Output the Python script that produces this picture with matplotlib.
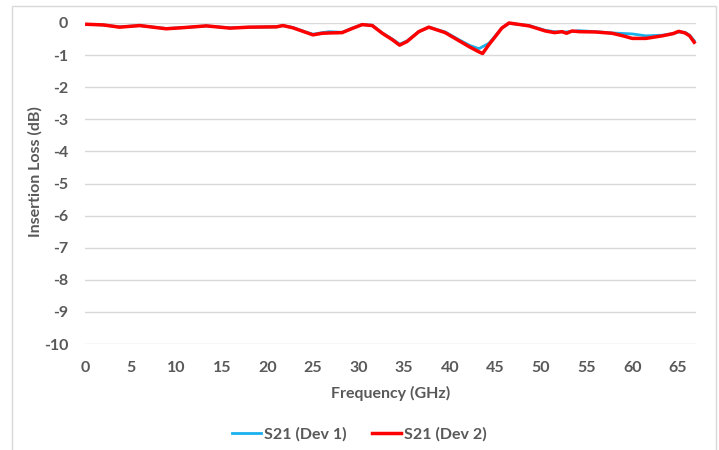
import matplotlib.pyplot as plt
from matplotlib.patches import Rectangle

# Measured S21 for two devices (GHz, dB)
freq_dev1 = [0.2, 2, 3.8, 6, 8.9, 11, 13.3, 15.9, 18, 21, 21.7, 22.8, 24, 25, 26, 26.8,
             28.2, 29.3, 30.4, 31.5, 32.6, 33.7, 34.5, 35.3, 36.6, 37.7, 39.5, 41,
             42.2, 43.2, 44.3, 45.0, 45.7, 46.5, 48.7, 50.5, 51.5, 52.7, 54.2, 56,
             57.8, 60, 61.5, 63.3, 64.5, 65.1, 65.8, 66.3, 66.8]
loss_dev1 = [-0.04, -0.06, -0.12, -0.08, -0.17, -0.14, -0.09, -0.15, -0.13, -0.12, -0.08,
             -0.14, -0.26, -0.35, -0.3, -0.27, -0.29, -0.16, -0.05, -0.07, -0.31, -0.5,
             -0.66, -0.56, -0.27, -0.13, -0.28, -0.52, -0.7, -0.8, -0.63, -0.4, -0.16,
             -0.01, -0.08, -0.23, -0.27, -0.28, -0.24, -0.27, -0.31, -0.34, -0.4, -0.38,
             -0.33, -0.28, -0.29, -0.38, -0.55]

freq_dev2 = [0.2, 2, 3.8, 6, 8.9, 11, 13.3, 15.9, 18, 21, 21.7, 22.8, 24, 25, 26, 26.8,
             28.2, 29.3, 30.4, 31.5, 32.6, 33.7, 34.5, 35.3, 36.6, 37.7, 39.5, 41,
             42.2, 43.2, 43.6, 44.3, 45.0, 45.7, 46.5, 48.7, 50.5, 51.5, 52.3, 52.8,
             53.4, 54.2, 56, 57.8, 59, 60, 61.5, 63.3, 64.5, 65.1, 65.8, 66.3, 66.8]
loss_dev2 = [-0.04, -0.06, -0.13, -0.08, -0.18, -0.14, -0.09, -0.16, -0.13, -0.12, -0.08,
             -0.15, -0.27, -0.37, -0.32, -0.31, -0.3, -0.17, -0.05, -0.08, -0.32, -0.52,
             -0.69, -0.58, -0.27, -0.13, -0.3, -0.55, -0.75, -0.9, -0.95, -0.67, -0.42,
             -0.16, 0.0, -0.09, -0.25, -0.3, -0.27, -0.32, -0.25, -0.27, -0.28,
             -0.32, -0.4, -0.48, -0.48, -0.4, -0.33, -0.26, -0.31, -0.4, -0.6]

x_ticks = list(range(0, 70, 5))
y_ticks = list(range(-10, 1))

plt.rcParams['font.family'] = ['Lato', 'DejaVu Sans']
text_color = '#595959'
grid_color = '#d9d9d9'

fig = plt.figure(figsize=(7.19, 4.5), dpi=100)
ax = fig.add_axes([85 / 719, 1 - 344 / 450, (696 - 85) / 719, (344 - 23) / 450])

# light frame around the chart area
fig.patches.append(Rectangle((12 / 719, -0.01), (716 - 12) / 719, 1 - 6 / 450 + 0.01,
                             transform=fig.transFigure, fill=False,
                             edgecolor=grid_color, linewidth=1.0))

ax.plot(freq_dev1, loss_dev1, color='#1ab0ec', linewidth=2.0, label='S21 (Dev 1)',
        clip_on=False, zorder=3)
ax.plot(freq_dev2, loss_dev2, color='#ff0000', linewidth=2.5, label='S21 (Dev 2)',
        clip_on=False, zorder=4)

ax.set_xlim(0, 67)
ax.set_ylim(-10, 0)
ax.set_xticks(x_ticks)
ax.set_yticks(y_ticks)
ax.set_yticklabels([str(v) for v in y_ticks])
ax.grid(axis='y', color=grid_color, linewidth=1.0)
ax.set_axisbelow(True)
for s in ax.spines.values():
    s.set_visible(False)
ax.tick_params(length=0, labelsize=11.5, labelcolor=text_color, pad=12)
for lbl in ax.get_xticklabels() + ax.get_yticklabels():
    lbl.set_fontweight('bold')

ax.set_xlabel('Frequency (GHz)', fontsize=11.5, color=text_color, fontweight='bold',
              labelpad=8)
ax.set_ylabel('Insertion Loss (dB)', fontsize=11.5, color=text_color, fontweight='bold')
ax.yaxis.set_label_coords(-0.069, 0.536)

leg = fig.legend(loc='center', bbox_to_anchor=(0.5, 1 - 434 / 450), ncol=2,
                 frameon=False, fontsize=11.5, handlelength=1.8, handletextpad=0.2,
                 columnspacing=1.6)
for t in leg.get_texts():
    t.set_color(text_color)
    t.set_fontweight('bold')

fig.savefig('out.png', dpi=100)
